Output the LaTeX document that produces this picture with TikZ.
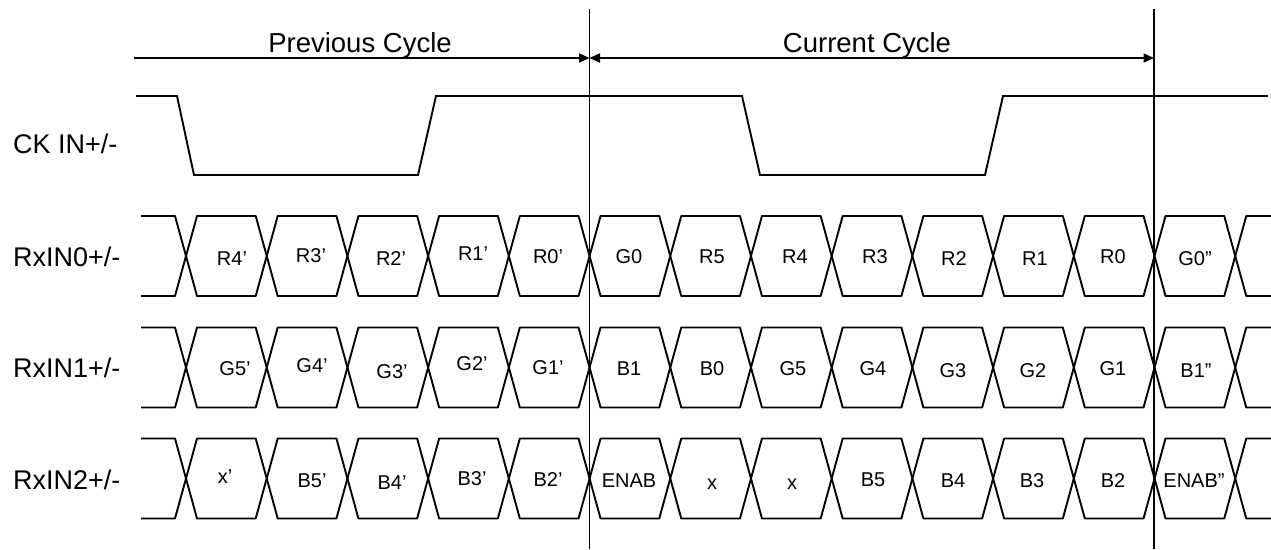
\documentclass[tikz,border=0pt]{standalone}
\usepackage{fontspec}
\setmainfont{Liberation Sans}
\usetikzlibrary{arrows.meta}
\begin{document}
\begin{tikzpicture}[x=1pt,y=-1pt,
  wire/.style={line width=1.9pt, line join=round},
  dimline/.style={line width=1.9pt},
  sig/.style={font=\fontsize{27}{30}\selectfont, anchor=base west, inner sep=0pt},
  ttl/.style={font=\fontsize{27.5}{30}\selectfont, anchor=base, inner sep=0pt},
  dat/.style={font=\fontsize{20}{24}\selectfont, anchor=base, inner sep=0pt}]
\useasboundingbox (0,0) rectangle (1271,549);

% cycle boundaries
\coordinate (v1t) at (589.5,9);  \coordinate (v1b) at (589.5,549);
\coordinate (v2t) at (1154,9);   \coordinate (v2b) at (1154,549);
\draw[dimline] (v1t) -- (v1b);
\draw[dimline] (v2t) -- (v2b);

% cycle arrows
\coordinate (a0) at (134,58);
\coordinate (a1) at (589.5,58);
\coordinate (a2) at (1154,58);
\draw[dimline,-{Triangle[length=10.5pt,width=9pt]}] (a0) -- (a1);
\draw[dimline,{Triangle[length=10.5pt,width=9pt]}-{Triangle[length=10.5pt,width=9pt]}] (a1) -- (a2);
\node[ttl] (prev) at (360,52) {Previous Cycle};
\node[ttl] (curr) at (867,52) {Current Cycle};

% signal names
\node[sig] (ck)  at (13,153) {CK IN+/-};
\node[sig] (rx0) at (13,266) {RxIN0+/-};
\node[sig] (rx1) at (13,377) {RxIN1+/-};
\node[sig] (rx2) at (13,489) {RxIN2+/-};

% clock
\draw[wire,line join=miter] (136,96) -- (177,96) -- (194,175) -- (418,175) -- (436,96)
  -- (742,96) -- (760,175) -- (985,175) -- (1003,96) -- (1268,96);

% data lanes
\def\ph{80.71}\def\cz{186}\def\hw{11}\def\hh{40}
\foreach \m in {256,367.5,478.5}{
  \pgfmathsetmacro\ytop{\m-\hh}
  \pgfmathsetmacro\ybot{\m+\hh}
  \draw[wire] (141,\ytop) -- (\cz-\hw,\ytop) -- (\cz,\m) -- (\cz-\hw,\ybot) -- (141,\ybot);
  \foreach \k in {0,...,12}{
    \pgfmathsetmacro\ca{\cz+\k*\ph}
    \pgfmathsetmacro\cb{\ca+\ph}
    \draw[wire] (\ca,\m) -- (\ca+\hw,\ytop) -- (\cb-\hw,\ytop) -- (\cb,\m)
      -- (\cb-\hw,\ybot) -- (\ca+\hw,\ybot) -- cycle;
  }
  \pgfmathsetmacro\ce{\cz+13*\ph}
  \draw[wire] (1272,\ytop) -- (\ce+\hw,\ytop) -- (\ce,\m) -- (\ce+\hw,\ybot) -- (1272,\ybot);
}

% lane 0 labels
\foreach \x/\y/\s [count=\i] in {232/265/R4’,311/262/R3’,391/265/R2’,473/260/R1’,548/263/R0’,
  629/263/G0,712/263/R5,795/263/R4,875/263/R3,954/265/R2,1035/265/R1,1113/263/R0,1195/265/G0”}
  \node[dat] (da\i) at (\x,\y) {\s};
% lane 1 labels
\foreach \x/\y/\s [count=\i] in {235/375/G5’,312/372/G4’,392/378/G3’,472/370/G2’,548/374/G1’,
  629/375/B1,712/375/B0,793/375/G5,873/375/G4,953/377/G3,1033/377/G2,1113/375/G1,1196/377/B1”}
  \node[dat] (db\i) at (\x,\y) {\s};
% lane 2 labels
\foreach \x/\y/\s [count=\i] in {225/483/x’,312/487/B5’,392/489/B4’,472/485/B3’,548/486/B2’,
  629/487/ENAB,712/489/x,792/489/x,873/486/B5,953/487/B4,1032/487/B3,1113/487/B2,1194/487/ENAB”}
  \node[dat] (dc\i) at (\x,\y) {\s};
\end{tikzpicture}
\end{document}
